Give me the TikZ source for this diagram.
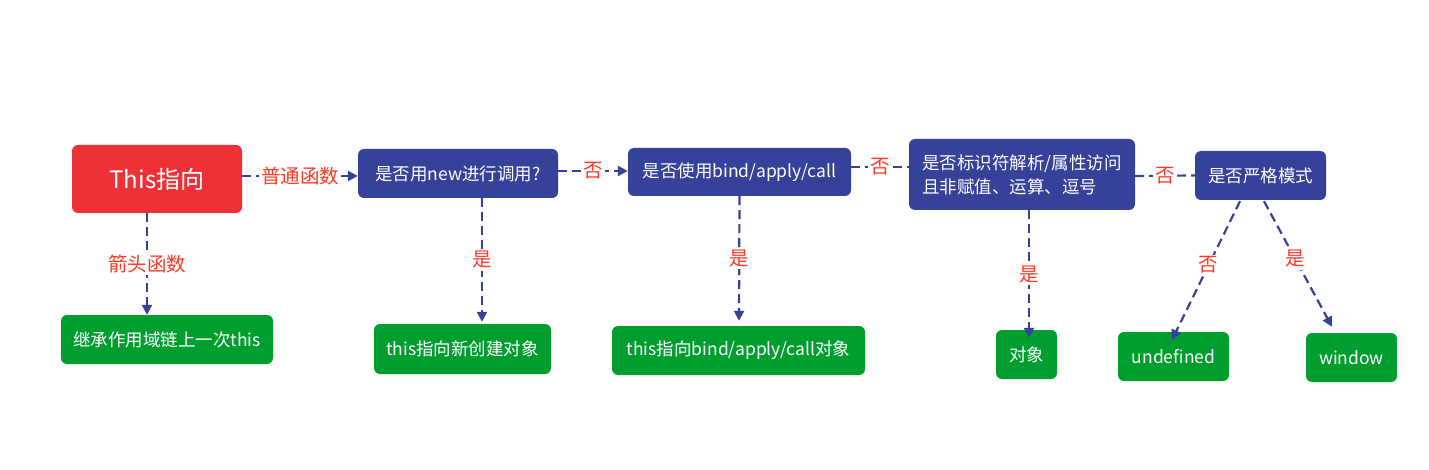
\documentclass[tikz,border=0pt]{standalone}
\usepackage{fontspec}
\setmainfont{Noto Sans CJK SC}
\usetikzlibrary{arrows.meta}
\definecolor{cblue}{RGB}{54,65,154}
\definecolor{cgreen}{RGB}{0,158,46}
\definecolor{cred}{RGB}{238,49,55}
\definecolor{clabel}{RGB}{255,56,36}
\tikzset{
  basebox/.style={rounded corners=6pt, text=white, inner sep=0pt, font=\fontsize{17.5}{24}\selectfont},
  bluebox/.style={basebox, fill=cblue},
  greenbox/.style={basebox, fill=cgreen},
  redbox/.style={basebox, fill=cred, font=\fontsize{24}{28}\selectfont},
  conn/.style={draw=cblue, line width=2.2pt, dash pattern=on 9pt off 5pt},
  arr/.style={conn, -{Triangle[length=10pt,width=10pt]}},
  lbl/.style={fill=white, text=clabel, inner sep=2pt, font=\fontsize{19.5}{20}\selectfont}
}
\begin{document}
\begin{tikzpicture}[x=1pt,y=-1pt]
\useasboundingbox (0,0) rectangle (1429,470);
% top row
\node[redbox, minimum width=170pt, minimum height=68pt] (root) at (157,179) {This指向};
\node[bluebox, minimum width=200pt, minimum height=49pt] (isnew) at (458,173.5) {是否用new进行调用?};
\node[bluebox, minimum width=223pt, minimum height=48pt] (isbind) at (739.5,172) {是否使用bind/apply/call};
\node[bluebox, minimum width=226pt, minimum height=71pt, align=left] (isident) at (1022,174.5) {是否标识符解析/属性访问\\且非赋值、运算、逗号};
\node[bluebox, minimum width=131pt, minimum height=49pt] (isstrict) at (1260.5,175.5) {是否严格模式};
% bottom row
\node[greenbox, minimum width=212pt, minimum height=49pt] (inherit) at (167,339.5) {继承作用域链上一次this};
\node[greenbox, minimum width=177pt, minimum height=50pt] (newobj) at (462.5,349) {this指向新创建对象};
\node[greenbox, minimum width=253pt, minimum height=49pt] (bindobj) at (738.5,350.5) {this指向bind/apply/call对象};
\node[greenbox, minimum width=61pt, minimum height=49pt] (obj) at (1026.5,354.5) {对象};
\node[greenbox, minimum width=111pt, minimum height=49pt] (undef) at (1173.5,356.5) {undefined};
\node[greenbox, minimum width=91pt, minimum height=49pt] (win) at (1351.5,357.5) {window};
% horizontal connectors
\draw[arr] ([yshift=3pt]root.east) -- node[lbl]{普通函数} ([yshift=-2.5pt]isnew.west);
\draw[arr] ([yshift=2.5pt]isnew.east) -- node[lbl]{否} ([yshift=1pt]isbind.west);
\draw[conn] ([yshift=5pt]isbind.east) -- node[lbl]{否} ([yshift=7.5pt]isident.west);
\draw[conn] ([yshift=-1.5pt]isident.east) -- node[lbl]{否} (isstrict.west);
% vertical connectors
\draw[arr] ([xshift=-10pt]root.south) -- node[lbl]{箭头函数} ([xshift=-20pt]inherit.north);
\draw[arr] ([xshift=24pt]isnew.south) -- node[lbl]{是} ([xshift=19.5pt,yshift=2pt]newobj.north);
\draw[arr] (isbind.south) -- node[lbl]{是} ([xshift=0.5pt,yshift=5pt]bindobj.north);
\draw[arr] ([xshift=7pt]isident.south) -- node[lbl]{是} ([xshift=2.5pt,yshift=-8pt]obj.north);
% diagonal connectors
\draw[arr] ([xshift=-20.5pt,yshift=-1pt]isstrict.south) -- node[lbl, pos=0.46]{否} ([xshift=-1.5pt,yshift=-8pt]undef.north);
\draw[arr] ([xshift=3.5pt,yshift=-1pt]isstrict.south) -- node[lbl, pos=0.46]{是} ([xshift=-19.5pt,yshift=6pt]win.north);
\end{tikzpicture}
\end{document}
